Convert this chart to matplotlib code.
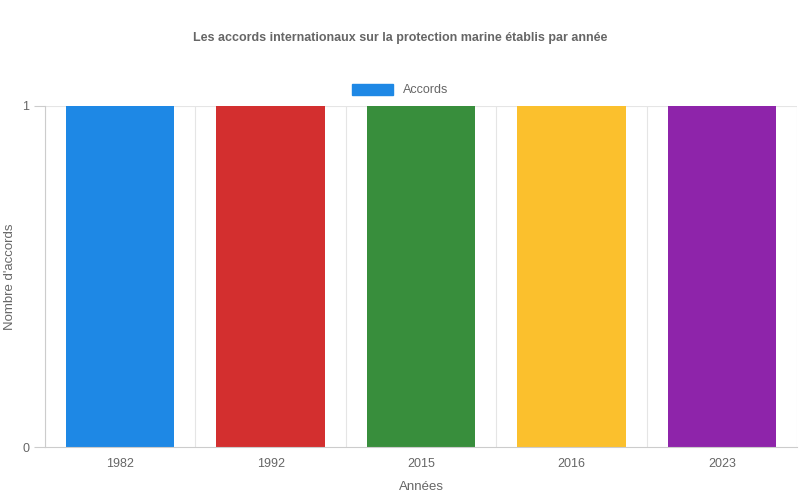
import matplotlib
matplotlib.use("Agg")
import matplotlib.pyplot as plt
from matplotlib.patches import Patch

years = ["1982", "1992", "2015", "2016", "2023"]
accords = [1, 1, 1, 1, 1]
colors = ["#1E88E5", "#D32F2F", "#388E3C", "#FBC02D", "#8E24AA"]

plt.rcParams['font.family'] = ['Liberation Sans', 'DejaVu Sans']
fig = plt.figure(figsize=(8, 5), dpi=100)
ax = fig.add_axes([45/800, 53/500, 752/800, 341/500])
x = range(len(years))
ax.bar(x, accords, width=0.72, color=colors)
ax.set_xlim(-0.5, len(years) - 0.5)
ax.set_ylim(0, 1)
ax.set_yticks([0, 1])
ax.set_xticks(list(x))
ax.set_xticklabels(years)
for b in [i - 0.5 for i in range(len(years) + 1)]:
    ax.axvline(b, color="#e5e5e5", lw=0.8, zorder=0)
ax.axhline(1, color="#e5e5e5", lw=0.8, zorder=0)
for s in ["top", "right"]:
    ax.spines[s].set_visible(False)
ax.spines["left"].set_color("#cccccc")
ax.spines["bottom"].set_color("#cccccc")
ax.tick_params(colors="#666666", labelsize=9, length=8, color="#cccccc")
ax.tick_params(axis="x", length=0, pad=8)
ax.set_xlabel("Années", color="#666666", fontsize=9.5, labelpad=8)
ax.set_ylabel("Nombre d'accords", color="#666666", fontsize=9.5, labelpad=4)
fig.text(0.5, 0.925, "Les accords internationaux sur la protection marine établis par année",
         ha="center", va="center", fontsize=9, fontweight="bold", color="#666666")
fig.legend(handles=[Patch(color=colors[0], label="Accords")], loc="center",
           bbox_to_anchor=(0.5, 0.82), frameon=False, fontsize=9,
           handlelength=3.3, handleheight=1.0, labelcolor="#666666")
fig.savefig("out.png", dpi=100)
